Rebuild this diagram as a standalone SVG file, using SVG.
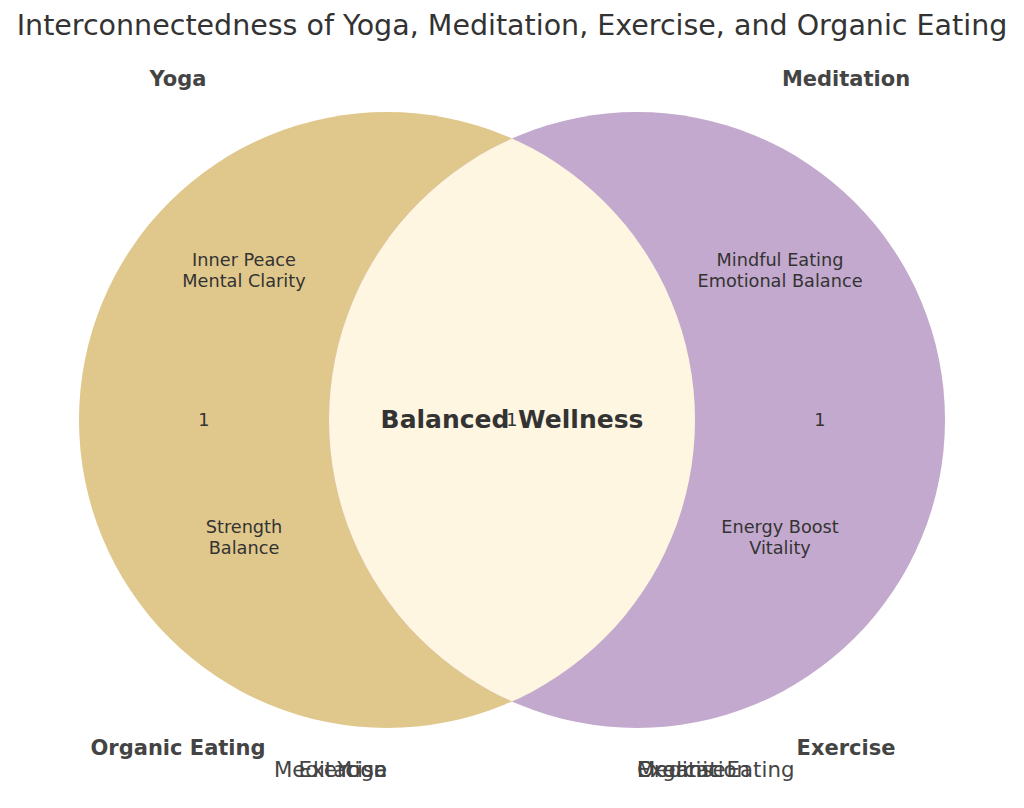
<svg xmlns="http://www.w3.org/2000/svg" width="1024" height="808" viewBox="0 0 1024 808">
<style>
text{font-family:"DejaVu Sans",sans-serif;fill:#333}
.t{font-size:28.5px}
.b{font-size:21px;font-weight:bold;fill:#444}
.n{font-size:17.7px;text-anchor:middle}
.bt{font-size:21.3px;fill:#444}
</style>
<rect width="1024" height="808" fill="#fff"/>
<defs><clipPath id="cl"><circle cx="387" cy="420" r="308"/></clipPath></defs>
<g id="yoga-circle"><circle cx="387" cy="420" r="308" fill="#e0c88c"/></g>
<g id="meditation-circle"><circle cx="637" cy="420" r="308" fill="#c3a9cd"/></g>
<g id="overlap"><circle cx="637" cy="420" r="308" fill="#fef6e0" clip-path="url(#cl)"/></g>
<g id="connectors"></g>
<text class="t" x="512" y="35" text-anchor="middle">Interconnectedness of Yoga, Meditation, Exercise, and Organic Eating</text>
<g id="labels">
<text class="b" x="178" y="86" text-anchor="middle">Yoga</text>
<text class="b" x="846" y="86" text-anchor="middle">Meditation</text>
<text class="b" x="178" y="755" text-anchor="middle">Organic Eating</text>
<text class="b" x="846" y="755" text-anchor="middle">Exercise</text>
<text class="n" x="204" y="426">1</text>
<text class="n" x="512" y="426">1</text>
<text class="n" x="820" y="426">1</text>
<text class="n" x="244" y="266">Inner Peace</text>
<text class="n" x="244" y="287">Mental Clarity</text>
<text class="n" x="780" y="266">Mindful Eating</text>
<text class="n" x="780" y="287">Emotional Balance</text>
<text class="n" x="244" y="533">Strength</text>
<text class="n" x="244" y="554">Balance</text>
<text class="n" x="780" y="533">Energy Boost</text>
<text class="n" x="780" y="554">Vitality</text>
<text x="512" y="428" text-anchor="middle" style="font-size:25px;font-weight:bold">Balanced Wellness</text>
<text class="bt" x="387" y="777" text-anchor="end">Meditation</text>
<text class="bt" x="387" y="777" text-anchor="end">Exercise</text>
<text class="bt" x="387" y="777" text-anchor="end">Yoga</text>
<text class="bt" x="637" y="777">Organic Eating</text>
<text class="bt" x="637" y="777">Meditation</text>
<text class="bt" x="637" y="777">Exercise</text>
</g>
</svg>
